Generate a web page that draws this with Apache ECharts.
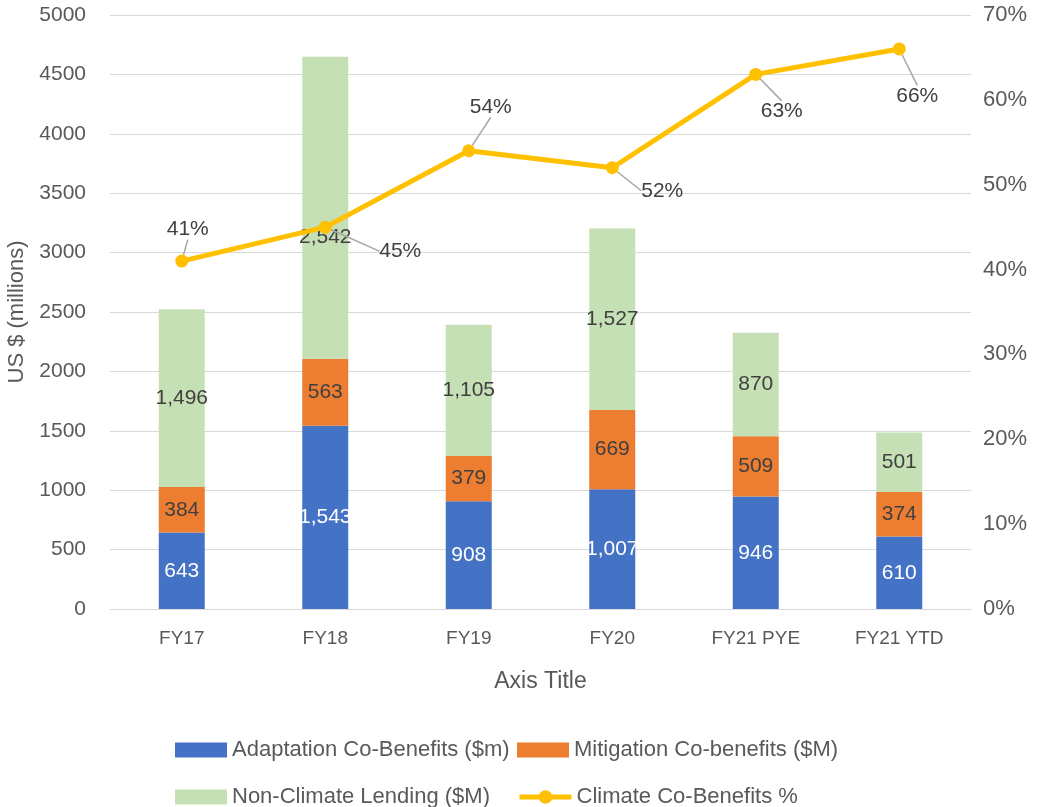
<!DOCTYPE html>
<html>
<head>
<meta charset="utf-8">
<script src="https://cdn.jsdelivr.net/npm/echarts@6/dist/echarts.min.js"></script>
<style>html,body{margin:0;padding:0;background:#fff}#c{width:1038px;height:807px}</style>
</head>
<body>
<div id="c"></div>
<script>
const categories = ['FY17', 'FY18', 'FY19', 'FY20', 'FY21 PYE', 'FY21 YTD'];
const adaptation = [643, 1543, 908, 1007, 946, 610];
const mitigation = [384, 563, 379, 669, 509, 374];
const nonClimate = [1496, 2542, 1105, 1527, 870, 501];
const climatePct = [41, 45, 54, 52, 63, 66];
const leftTicks = { min: 0, max: 5000, interval: 500 };
const rightTicks = { min: 0, max: 70, interval: 10 };

const FONT = 'Liberation Sans';
const TXT = '#595959';
const FS = 19;

// label shifts for the percentage labels (dx, dy from default 'top' position)
const pctShift = [[6, -10], [75, 46], [22, -22], [50, 45], [26, 59], [18, 69]];

function legendItem(name, left, top, isLine) {
  const l = {
    left: left, top: top, itemWidth: 52, itemHeight: 15, padding: 0,
    textStyle: { fontFamily: FONT, fontSize: 22, color: TXT, padding: [0, 0, 0, 0] },
    data: [name]
  };
  if (isLine) {
    l.lineStyle = { width: 5 };
    l.itemHeight = 17;
  } else {
    l.icon = 'rect';
  }
  return l;
}

const chart = echarts.init(document.getElementById('c'));
chart.setOption({
  animation: false,
  textStyle: { fontFamily: FONT },
  grid: { left: 110, right: 67, top: 15, bottom: 198, outerBoundsMode: 'none', containLabel: false },
  legend: [
    legendItem('Adaptation Co-Benefits ($m)', 175, 739),
    legendItem('Mitigation Co-benefits ($M)', 517, 739),
    legendItem('Non-Climate Lending ($M)', 175, 786),
    legendItem('Climate Co-Benefits %', 517, 786, true)
  ],
  xAxis: {
    type: 'category', data: categories,
    axisLine: { show: true, lineStyle: { color: '#D9D9D9', width: 1 } },
    axisTick: { show: false },
    axisLabel: { color: TXT, fontSize: FS, margin: 20, fontFamily: FONT },
    name: 'Axis Title', nameLocation: 'middle', nameGap: 61,
    nameTextStyle: { color: TXT, fontSize: 23, fontFamily: FONT }
  },
  yAxis: [
    {
      type: 'value', min: leftTicks.min, max: leftTicks.max, interval: leftTicks.interval,
      axisLine: { show: false }, axisTick: { show: false },
      axisLabel: { color: TXT, fontSize: 21, margin: 24, fontFamily: FONT, formatter: v => String(v) },
      splitLine: { lineStyle: { color: '#D9D9D9', width: 1 } },
      name: 'US $ (millions)', nameLocation: 'middle', nameGap: 80, nameRotate: 90,
      nameTextStyle: { color: TXT, fontSize: 22, fontFamily: FONT }
    },
    {
      type: 'value', min: rightTicks.min, max: rightTicks.max, interval: rightTicks.interval,
      axisLine: { show: false }, axisTick: { show: false },
      axisLabel: { color: TXT, fontSize: 22, margin: 12, fontFamily: FONT, formatter: v => v + '%' },
      splitLine: { show: false }
    }
  ],
  series: [
    {
      name: 'Adaptation Co-Benefits ($m)', type: 'bar', stack: 'total', barWidth: 46,
      itemStyle: { color: '#4472C4' }, data: adaptation,
      label: { show: true, position: 'inside', color: '#FFFFFF', fontSize: 21, fontFamily: FONT,
        formatter: p => p.value.toLocaleString('en-US') }
    },
    {
      name: 'Mitigation Co-benefits ($M)', type: 'bar', stack: 'total', barWidth: 46,
      itemStyle: { color: '#ED7D31' }, data: mitigation,
      label: { show: true, position: 'inside', color: '#404040', fontSize: 21, fontFamily: FONT,
        formatter: p => p.value.toLocaleString('en-US') }
    },
    {
      name: 'Non-Climate Lending ($M)', type: 'bar', stack: 'total', barWidth: 46,
      itemStyle: { color: '#C5E0B4' },
      data: nonClimate.map((v, i) => i === 1 ? { value: v, label: { offset: [0, 29] } } : v),
      label: { show: true, position: 'inside', color: '#404040', fontSize: 21, fontFamily: FONT,
        formatter: p => p.value.toLocaleString('en-US') }
    },
    {
      name: 'Climate Co-Benefits %', type: 'line', yAxisIndex: 1, data: climatePct,
      symbol: 'circle', symbolSize: 13,
      lineStyle: { color: '#FFC000', width: 5 },
      itemStyle: { color: '#FFC000' },
      label: { show: true, position: 'top', color: '#404040', fontSize: 21, fontFamily: FONT,
        formatter: '{c}%' },
      labelLine: { show: true, lineStyle: { color: '#A6A6A6', width: 1.5 } },
      labelLayout: p => ({ dx: pctShift[p.dataIndex][0], dy: pctShift[p.dataIndex][1] }),
      z: 5
    }
  ]
});
</script>
</body>
</html>
